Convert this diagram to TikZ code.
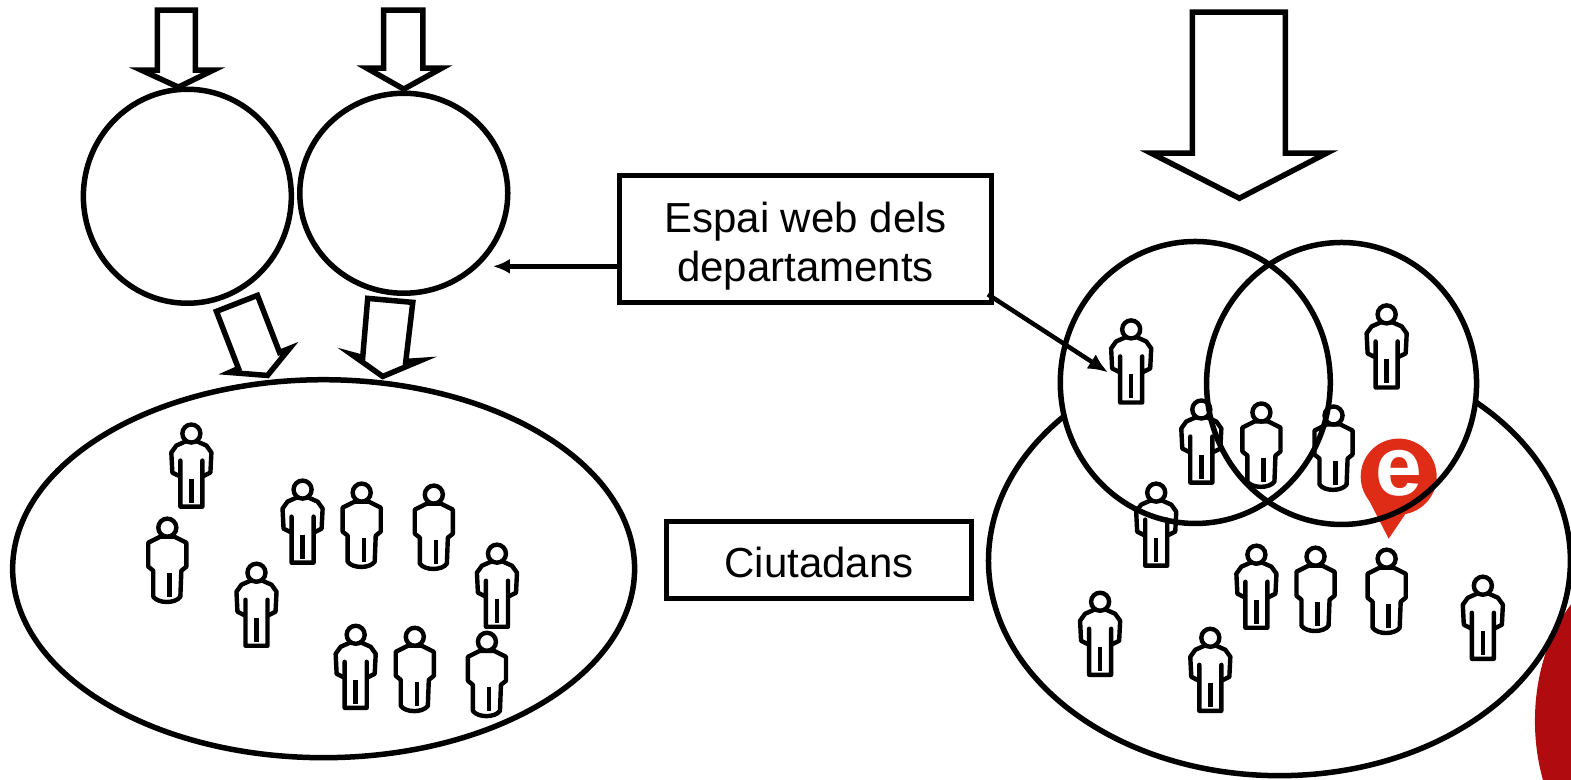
\documentclass[tikz,border=0pt]{standalone}
\usepackage{fontspec}
\setmainfont{Liberation Sans}
\usepackage{tikz}
\usetikzlibrary{shapes.geometric,arrows.meta}
\definecolor{MarcaVermell}{RGB}{222,44,22}
\definecolor{FonsVermell}{RGB}{176,12,16}
\tikzset{
  cercle/.style n args={2}{ellipse,inner sep=0pt,minimum width=#1,minimum height=#2},
  contorn/.style={draw,line width=5.5pt},
  rotul/.style={draw,line width=5pt,inner sep=0pt,align=center,font=\fontsize{42}{49}\selectfont},
  fletxa/.style={draw,fill=white,line width=5.5pt,miter limit=20,line join=miter},
  persona/.pic={
    \draw[line width=4.4pt,line join=round,fill=white]
      (-11,84) -- (-11,38) -- (-11,54) -- (-19,50) -- (-20,30) -- (-15,23) -- (-6,19) -- (6,19)
      -- (15,23) -- (20,30) -- (19,50) -- (11,54) -- (11,38) -- (11,84) -- cycle;
    \draw[line width=4.4pt,fill=white] (0,11) circle (9);
    \draw[line width=4.4pt] (0,56) -- (0,80);
  },
  personab/.pic={
    \draw[line width=4.4pt,line join=round,fill=white]
      (-14,80) -- (-14,54) -- (-19,50) -- (-19,26) -- (-7,20) -- (7,20) -- (19,26) -- (19,50)
      -- (14,54) -- (13,80) .. controls (8,87) and (-9,87) .. (-14,80) -- cycle;
    \draw[line width=4.4pt,fill=white] (0,11) circle (9);
    \draw[line width=4.4pt] (2,56) -- (2,80);
  }
}
\begin{document}
\begin{tikzpicture}[x=1.002pt,y=-1.0013pt]
\useasboundingbox (0,0) rectangle (1568,779);
\clip (0,0) rectangle (1568,779);
\fill[FonsVermell] (1640,720) ellipse (108 and 156);
% grups de ciutadans
\node[cercle={622pt}{378pt},contorn](ciutadansA) at(323,568) {};
\node[cercle={582pt}{430pt},contorn,fill=white](ciutadansB) at(1277,560) {};
\node[cercle={270pt}{282pt},fill=white](fonsC) at(1193,382) {};
\node[cercle={270pt}{282pt},fill=white](fonsD) at(1339,383) {};
% marca
\fill[MarcaVermell] (1386,538) -- (1365,497) -- (1407,507) -- cycle;
\node[circle,fill=MarcaVermell,minimum size=76pt,inner sep=0pt](marca) at(1396,476) {};
\node[text=white,font=\fontsize{84}{84}\selectfont\bfseries,inner sep=0pt](lletra) at(1396,473) {e};
\foreach \x/\y in {191/422,302/478,256/561,496/542,355/623,1129/318,1384/303,1199/398,1154/481,1254/543,1480/574,1098/590,1208/626} {
  \pic at (\x,\y) {persona};
}
\foreach \x/\y in {167/516,361/481,433/483,414/625,486/630,1259/401,1331/404,1313/545,1384/547} {
  \pic at (\x,\y) {personab};
}
% espais web
\node[cercle={208pt}{214pt},contorn](espaiA) at(187,196) {};
\node[cercle={208pt}{200pt},contorn](espaiB) at(403,193) {};
\node[cercle={270pt}{282pt},contorn](espaiC) at(1193,382) {};
\node[cercle={270pt}{282pt},contorn](espaiD) at(1339,383) {};
% fletxes grosses
\draw[fletxa] (157,10) -- (195,10) -- (195,70) -- (213,70) -- (178,87) -- (141,70) -- (157,70) -- cycle;
\draw[fletxa] (383,10) -- (422,10) -- (422,68) -- (441,68) -- (403,89) -- (366,68) -- (383,68) -- cycle;
\draw[fletxa] (1190,12) -- (1283,12) -- (1283,153) -- (1324,153) -- (1237,198) -- (1149,153) -- (1190,153) -- cycle;
\draw[fletxa] (216,311) -- (257,295) -- (279,352) -- (289,348) -- (267,375) -- (229,372) -- (238,368) -- cycle;
\draw[fletxa] (367,298) -- (412,302) -- (405,361) -- (420,360) -- (382,376) -- (351,354) -- (362,357) -- cycle;
% rotuls
\node[rotul,minimum width=372pt,minimum height=127pt](web) at(804,238.5) {\rule{0pt}{46pt}Espai web dels\\departaments};
\node[rotul,minimum width=305pt,minimum height=77pt](ciutadans) at(817.5,559.5) {\rule{0pt}{35pt}Ciutadans};
\coordinate (fiA) at (492,266);
\coordinate (iniB) at (986,294);
\coordinate (fiB) at (1106,372);
\draw[line width=4.5pt,-{Latex[length=17pt,width=15pt]}] (web.west |- fiA) -- (fiA);
\draw[line width=4.5pt,-{Latex[length=20pt,width=17pt]}] (iniB) -- (fiB);
\end{tikzpicture}
\end{document}
